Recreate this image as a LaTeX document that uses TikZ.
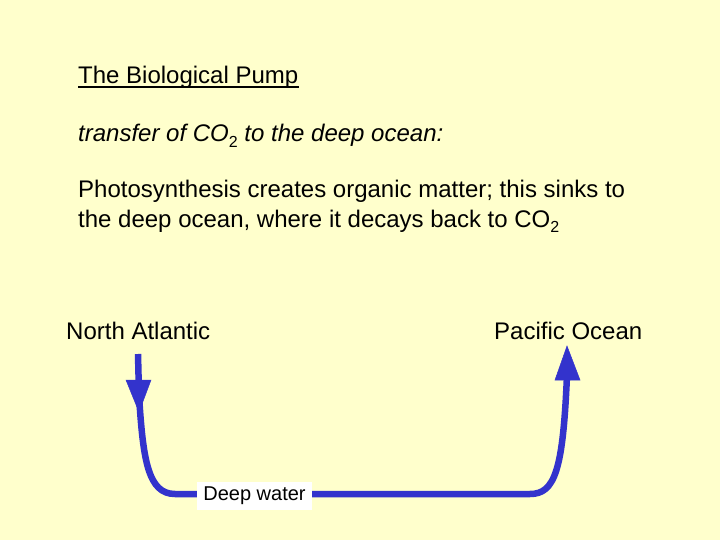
\documentclass[tikz,border=0pt]{standalone}
\usepackage{fontspec}
\setmainfont{Liberation Sans}
\definecolor{bgyellow}{RGB}{255,255,204}
\definecolor{flowblue}{RGB}{51,51,204}
\newcommand{\lowsub}[1]{\raisebox{-5.5pt}{\fontsize{16}{18}\selectfont\upshape #1}}
\tikzset{
  txt/.style={anchor=base west, inner sep=0pt, font=\fontsize{24}{28}\selectfont},
  flow/.style={draw=flowblue, line width=6.5pt, line join=round},
  head/.style={fill=flowblue, draw=flowblue, line width=0.5pt, line join=miter},
  label/.style={fill=white, inner xsep=6pt, inner ysep=5pt, font=\fontsize{20}{24}\selectfont}
}
\begin{document}
\begin{tikzpicture}[x=1pt,y=-1pt]
\useasboundingbox (0,0) rectangle (720,540);
\fill[bgyellow] (0,0) rectangle (720,540);

\node[txt] (title) at (78,84) {The Biological Pump};
\draw[line width=1.8pt] ([yshift=-3pt]title.base west) -- ([yshift=-3pt]title.base east);
\node[txt] (sub) at (78,142) {\itshape transfer of CO\lowsub{2} to the deep ocean:};
\node[txt] (l1) at (78,198) {Photosynthesis creates organic matter; this sinks to};
\node[txt] (l2) at (78,227) {the deep ocean, where it decays back to CO\lowsub{2}};
\node[txt] (na) at (66,339) {North Atlantic};
\node[txt] (po) at (494,339) {Pacific Ocean};

\coordinate (s) at (138,354);
\coordinate (lh) at (139,395);
\coordinate (lc) at (175,494);
\coordinate (rc) at (530,494);
\coordinate (rh) at (567,375);

\draw[flow] (s) -- (lh) .. controls (143,460) and (148,494) .. (lc) -- (rc)
  .. controls (555,494) and (563,470) .. (rh);
\fill[head] (126,380) -- (151,380) -- (139,412) -- cycle;
\fill[head] (555,380) -- (580,380) -- (567,346) -- cycle;

\node[label] (dw) at (254.5,496) {Deep water};
\end{tikzpicture}
\end{document}
